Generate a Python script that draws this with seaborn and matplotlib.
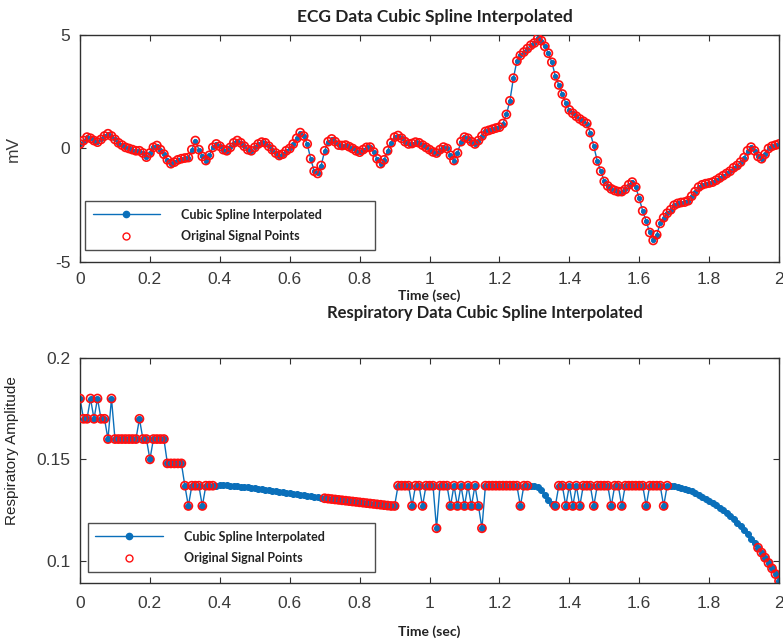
import numpy as np
import matplotlib
matplotlib.use("Agg")
import matplotlib.pyplot as plt
import seaborn as sns
from matplotlib.lines import Line2D

nan = float("nan")

# ---------------- data ----------------
# sample times: 0.00 .. 2.00 s every 0.01 s
n_samples = 201
dt = 0.01

ecg_mv = [
    0.20, 0.35, 0.50, 0.45, 0.35, 0.28, 0.40, 0.55, 0.65, 0.55,   # 0.00-0.09
    0.40, 0.25, 0.15, 0.05, 0.00, -0.05, -0.10, -0.10, -0.20, -0.38,  # 0.10-0.19
    -0.20, 0.05, 0.13, -0.05, -0.25, -0.50, -0.67, -0.60, -0.50, -0.45,  # 0.20-0.29
    -0.42, -0.40, -0.05, 0.35, -0.05, -0.35, -0.53, -0.30, 0.05, 0.20,  # 0.30-0.39
    0.10, -0.05, -0.10, 0.05, 0.25, 0.35, 0.25, 0.10, -0.05, -0.10,  # 0.40-0.49
    0.05, 0.20, 0.28, 0.25, 0.10, -0.05, -0.20, -0.31, -0.25, -0.10,  # 0.50-0.59
    0.00, 0.20, 0.45, 0.70, 0.55, 0.20, -0.45, -1.00, -1.10, -0.75,  # 0.60-0.69
    -0.10, 0.30, 0.42, 0.30, 0.15, 0.13, 0.15, 0.08, 0.00, -0.10,  # 0.70-0.79
    -0.16, -0.05, 0.05, 0.06, -0.15, -0.45, -0.67, -0.50, -0.10, 0.25,  # 0.80-0.89
    0.50, 0.57, 0.45, 0.30, 0.20, 0.22, 0.28, 0.25, 0.15, 0.05,  # 0.90-0.99
    -0.05, -0.15, -0.20, -0.05, 0.06, 0.00, -0.30, -0.53, -0.20, 0.30,  # 1.00-1.09
    0.50, 0.45, 0.30, 0.20, 0.35, 0.55, 0.75, 0.80, 0.85, 0.90,  # 1.10-1.19
    0.94, 1.10, 1.50, 2.10, 3.10, 3.85, 4.10, 4.25, 4.40, 4.55,  # 1.20-1.29
    4.65, 4.85, 4.75, 4.50, 4.20, 3.80, 3.20, 2.80, 2.40, 2.00,  # 1.30-1.39
    1.70, 1.55, 1.42, 1.30, 1.20, 1.10, 0.70, 0.10, -0.55, -1.00,  # 1.40-1.49
    -1.45, -1.65, -1.78, -1.85, -1.90, -1.90, -1.80, -1.60, -1.48, -1.70,  # 1.50-1.59
    -2.20, -2.75, -3.20, -3.70, -4.05, -3.80, -3.30, -3.05, -2.85, -2.70,  # 1.60-1.69
    -2.50, -2.42, -2.38, -2.36, -2.30, -2.10, -1.90, -1.70, -1.60, -1.55,  # 1.70-1.79
    -1.52, -1.48, -1.40, -1.30, -1.20, -1.10, -1.00, -0.85, -0.75, -0.60,  # 1.80-1.89
    -0.40, -0.10, 0.06, -0.10, -0.35, -0.45, -0.25, 0.00, 0.10, 0.15,  # 1.90-1.99
    0.20,                                                            # 2.00
]

resp_original = [
    0.18, 0.17, 0.17, 0.18, 0.17, 0.18, 0.17, 0.17, 0.16, 0.18,   # 0.00-0.09
    0.16, 0.16, 0.16, 0.16, 0.16, 0.16, 0.16, 0.17, 0.16, 0.16,   # 0.10-0.19
    0.15, 0.16, 0.16, 0.16, 0.16, 0.148, 0.148, 0.148, 0.148, 0.148,  # 0.20-0.29
    0.137, 0.127, 0.137, 0.137, 0.137, 0.127, 0.137, 0.137, 0.137, nan,  # 0.30-0.39
    nan, nan, nan, nan, nan, nan, nan, nan, nan, nan,             # 0.40-0.49
    nan, nan, nan, nan, nan, nan, nan, nan, nan, nan,             # 0.50-0.59
    nan, nan, nan, nan, nan, nan, nan, nan, nan, nan,             # 0.60-0.69
    0.1308, 0.1306, 0.1304, 0.1302, 0.1300, 0.1298, 0.1296, 0.1294, 0.1292, 0.1290,  # 0.70-0.79
    0.1288, 0.1286, 0.1284, 0.1282, 0.1280, 0.1278, 0.1276, 0.1274, 0.1272, 0.1270,  # 0.80-0.89
    0.127, 0.137, 0.137, 0.137, 0.137, 0.127, 0.137, 0.137, 0.127, 0.137,  # 0.90-0.99
    0.137, 0.137, 0.116, 0.137, 0.137, 0.137, 0.127, 0.137, 0.127, 0.137,  # 1.00-1.09
    0.127, 0.137, 0.127, 0.137, 0.127, 0.116, 0.137, 0.137, 0.137, 0.137,  # 1.10-1.19
    0.137, 0.137, 0.137, 0.137, 0.137, 0.137, 0.127, 0.137, 0.137, nan,  # 1.20-1.29
    nan, nan, nan, nan, nan, nan, 0.127, 0.137, 0.137, 0.127,     # 1.30-1.39
    0.137, 0.127, 0.137, 0.127, 0.137, 0.137, 0.137, 0.127, 0.137, 0.137,  # 1.40-1.49
    0.137, 0.137, 0.127, 0.137, 0.137, 0.127, 0.137, 0.137, 0.137, 0.137,  # 1.50-1.59
    0.137, 0.137, 0.127, 0.137, 0.137, 0.137, 0.137, 0.127, 0.137, nan,  # 1.60-1.69
    nan, nan, nan, nan, nan, nan, nan, nan, nan, nan,             # 1.70-1.79
    nan, nan, nan, nan, nan, nan, nan, nan, nan, nan,             # 1.80-1.89
    nan, nan, nan, nan, 0.1064, 0.1040, 0.1015, 0.0989, 0.0962, 0.0934,  # 1.90-1.99
    0.0900,                                                        # 2.00
]

# spline values where no original sample is drawn
spline_gap_a = [  # 0.39-0.69
    0.1370, 0.1371, 0.1371, 0.1371, 0.1370, 0.1369, 0.1368, 0.1366, 0.1364, 0.1362,
    0.1360, 0.1358, 0.1355, 0.1353, 0.1350, 0.1348, 0.1345, 0.1342, 0.1340, 0.1337,
    0.1334, 0.1332, 0.1329, 0.1327, 0.1324, 0.1322, 0.1319, 0.1317, 0.1315, 0.1312,
    0.1310,
]
spline_gap_b = [0.137, 0.137, 0.1365, 0.1348, 0.1325, 0.1298, 0.1280]  # 1.29-1.35
spline_gap_c = [  # 1.69-1.93
    0.1369, 0.1367, 0.1364, 0.1360, 0.1355, 0.1349, 0.1342, 0.1334, 0.1325, 0.1315,
    0.1305, 0.1295, 0.1285, 0.1274, 0.1262, 0.1249, 0.1235, 0.1220, 0.1204, 0.1187,
    0.1169, 0.1150, 0.1130, 0.1109, 0.1087,
]

x_tick_values = [0, 0.2, 0.4, 0.6, 0.8, 1.0, 1.2, 1.4, 1.6, 1.8, 2.0]
x_tick_labels = ["0", "0.2", "0.4", "0.6", "0.8", "1", "1.2", "1.4", "1.6", "1.8", "2"]
ecg_y_ticks = [-5, 0, 5]
ecg_y_labels = ["-5", "0", "5"]
resp_y_ticks = [0.1, 0.15, 0.2]
resp_y_labels = ["0.1", "0.15", "0.2"]

legend_labels = ["Cubic Spline Interpolated", "Original Signal Points"]

# ---------------- assemble ----------------
t = np.round(np.arange(n_samples) * dt, 2)
ecg = np.array(ecg_mv, dtype=float)
resp_o = np.array(resp_original, dtype=float)
resp_s = resp_o.copy()
resp_s[39:70] = spline_gap_a
resp_s[129:136] = spline_gap_b
resp_s[169:194] = spline_gap_c
assert len(ecg) == n_samples and len(resp_o) == n_samples

# ---------------- style ----------------
sns.set_style("ticks")
plt.rcParams["font.family"] = ["Liberation Sans", "DejaVu Sans"]

BLUE = "#0a6fba"
RED = "#ff1010"
TXT = "#3a3a3a"
SPINE = "#303030"

fig = plt.figure(figsize=(7.83, 6.42), dpi=100)
ax1 = fig.add_axes([0.1022, 0.5919, 0.8927, 0.3536])
ax2 = fig.add_axes([0.1022, 0.0919, 0.8927, 0.3505])


def draw(ax, x, y_spline, y_orig, dot):
    sns.lineplot(x=x, y=y_spline, ax=ax, color=BLUE, linewidth=1.0,
                 marker="o", markersize=dot, markeredgecolor=BLUE,
                 markerfacecolor=BLUE, estimator=None, sort=False,
                 legend=False, zorder=2)
    sns.scatterplot(x=x, y=y_orig, ax=ax, marker="o", s=34,
                    facecolor="none", edgecolor=RED, linewidth=1.2,
                    legend=False, zorder=3)


draw(ax1, t, ecg, ecg, 3.0)
draw(ax2, t, resp_s, resp_o, 4.3)

ax1.set_xlim(0, 2)
ax1.set_ylim(-5, 5)
ax2.set_xlim(0, 2)
ax2.set_ylim(0.089, 0.2)

for ax, yt, yl, xpad in ((ax1, ecg_y_ticks, ecg_y_labels, 7),
                         (ax2, resp_y_ticks, resp_y_labels, 9)):
    ax.set_xticks(x_tick_values)
    ax.set_xticklabels(x_tick_labels)
    ax.set_yticks(yt)
    ax.set_yticklabels(yl)
    ax.tick_params(direction="in", top=True, right=True, length=4, width=0.8,
                   color=SPINE, labelsize=12.5, labelcolor=TXT)
    ax.tick_params(axis="x", pad=xpad)
    ax.tick_params(axis="y", pad=7)
    for sp in ax.spines.values():
        sp.set_visible(True)
        sp.set_color(SPINE)
        sp.set_linewidth(1.0)
    ax.set_xlabel("")
    ax.set_ylabel("")

ax1.set_ylabel("mV", fontsize=12.5, color=TXT)
ax1.yaxis.set_label_coords(-0.085, 0.5)
ax2.set_ylabel("Respiratory Amplitude", fontsize=11, color="#222222")
ax2.yaxis.set_label_coords(-0.088, 0.587)

lab_font = dict(family=["Lato", "DejaVu Sans"], weight="bold", color="#222222")
ax1.set_xlabel("Time (sec)", fontsize=10, **lab_font)
ax1.xaxis.set_label_coords(0.5, -0.121)
ax2.set_xlabel("Time (sec)", fontsize=10, **lab_font)
ax2.xaxis.set_label_coords(0.5, -0.19)

fig.text(435 / 783, 1 - 17 / 642, "ECG Data Cubic Spline Interpolated",
         ha="center", va="center", fontsize=12.5, **lab_font)
fig.text(485 / 783, 1 - 313 / 642, "Respiratory Data Cubic Spline Interpolated",
         ha="center", va="center", fontsize=12, **lab_font)

handles = [
    Line2D([], [], color=BLUE, lw=1.0, marker="o", ms=4.5, mfc=BLUE, mec=BLUE),
    Line2D([], [], ls="none", marker="o", ms=5, mfc="none", mec=RED, mew=1.0),
]
for ax, box in ((ax1, (0.007, 0.053, 0.415, 0.22)), (ax2, (0.011, 0.049, 0.411, 0.222))):
    leg = ax.legend(handles, legend_labels, loc="lower left", bbox_to_anchor=box,
                    mode="expand", borderaxespad=0, handlelength=5.4,
                    handletextpad=1.7, labelspacing=0.76, borderpad=0.62,
                    numpoints=1, frameon=True, fancybox=False,
                    prop=dict(family=["Lato", "DejaVu Sans"], weight="bold", size=9))
    leg.get_frame().set_edgecolor("#202020")
    leg.get_frame().set_linewidth(1.0)
    for txt in leg.get_texts():
        txt.set_color("#222222")

fig.savefig("out.png", dpi=100)
